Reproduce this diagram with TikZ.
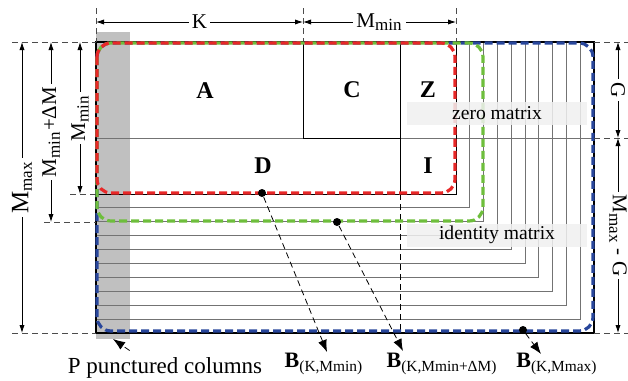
\documentclass[tikz,border=0pt]{standalone}
\usepackage{fontspec}
\setmainfont{Liberation Serif}
\usetikzlibrary{arrows.meta,calc}

\definecolor{bandred}{RGB}{232,40,40}
\definecolor{bandgreen}{RGB}{110,190,60}
\definecolor{bandblue}{RGB}{40,70,155}
\definecolor{colgray}{RGB}{192,192,192}

% large subscript for the dimension labels
\newcommand{\lowidx}[1]{\textsubscript{\fontsize{8.5}{9}\selectfont #1}}

\begin{document}
\begin{tikzpicture}[x=0.5pt,y=-0.5pt,
    dim/.style={thin,{Latex[length=4pt,width=2.6pt]}-{Latex[length=4pt,width=2.6pt]}},
    ext/.style={thin,densely dashed,black!70},
    dimlabel/.style={fill=white,inner sep=1.5pt,font=\fontsize{10.5}{12}\selectfont},
    blocklabel/.style={font=\fontsize{12}{14}\selectfont\bfseries},
    stair/.style={black!55,line width=0.5pt},
    band/.style={rounded corners=7pt,line width=1.6pt,dash pattern=on 4pt off 2pt},
    dot/.style={circle,fill=black,inner sep=0pt,minimum size=4pt},
    pointer/.style={densely dashed,thin,-{Latex[length=6pt,width=4.5pt]}},
    tag/.style={fill=black!6,fill opacity=0.85,text opacity=1,minimum width=90pt,
                minimum height=11.5pt,inner sep=0pt,font=\fontsize{9.8}{11}\selectfont},
    blabel/.style={font=\fontsize{11}{13}\selectfont}
]
\useasboundingbox (0,0) rectangle (628,381);

% punctured columns
\fill[colgray] (96,32) rectangle (130,339);

% staircase of the larger codes
\foreach \k in {1,...,9}
  \draw[stair] (96,{194+13.9*\k}) -| ({456+13.8*\k},42);

% blocks A, C, Z, D, I
\draw[black!55] (96,138) -- (594,138);
\draw (303,42) rectangle (400,138);
\draw (400,138) -- (400,194);
\draw[densely dashed] (400,194) -- (400,333);
\draw (96,194) -| (456,42);
\draw[line width=0.8pt] (96,42) rectangle (594,333);

% the three codes
\draw[band,bandblue]  (97,43) rectangle (593,331);
\draw[band,bandgreen] (97,43) rectangle (483,221);
\draw[band,bandred]   (97,43) rectangle (455,193);

\node[blocklabel] (A) at (205,91)  {A};
\node[blocklabel] (C) at (352,90)  {C};
\node[blocklabel] (Z) at (428,90)  {Z};
\node[blocklabel] (D) at (263,166) {D};
\node[blocklabel] (I) at (428,166) {I};
\node[tag] (zero)  at (497,113) {zero matrix};
\node[tag] (ident) at (497,235) {identity matrix};

% dimensions on top
\draw[ext] (96,8) -- (96,42);
\draw[ext] (303,8) -- (303,42);
\draw[ext] (456,8) -- (456,42);
\draw[dim] (96,22) -- (303,22) node[midway,dimlabel] (k) {K};
\draw[dim] (303,22) -- (456,22) node[midway,dimlabel] (mtop) {M\lowidx{min}};

% dimensions on the left
\draw[ext] (12,42) -- (96,42);
\draw[ext] (70,194) -- (96,194);
\draw[ext] (44,222) -- (96,222);
\draw[ext] (12,333) -- (96,333);
\draw[dim] (22,42) -- (22,333) node[midway,dimlabel,rotate=90,font=\fontsize{12.5}{14}\selectfont]
  (mmax) {M\lowidx{max}};
\draw[dim] (51,42) -- (51,222) node[midway,dimlabel,rotate=90] (mmid) {M\lowidx{min}+ΔM};
\draw[dim] (80,42) -- (80,194) node[midway,dimlabel,rotate=90] (mmin) {M\lowidx{min}};

% dimensions on the right
\draw[ext] (594,42) -- (628,42);
\draw[ext] (594,138) -- (628,138);
\draw[ext] (594,333) -- (628,333);
\draw[dim] (618,42) -- (618,138) node[midway,dimlabel,rotate=-90] (g) {G};
\draw[dim] (618,138) -- (618,333) node[midway,dimlabel,rotate=-90] (mg) {M\lowidx{max} - G};

% code labels
\node[dot] (pmin) at (262,193) {};
\node[dot] (pmid) at (337,222) {};
\node[dot] (pmax) at (523,330) {};
\node[blabel] (bmin) at (324,364) {\textbf{B}\textsubscript{(K,Mmin)}};
\node[blabel] (bmid) at (442,364) {\textbf{B}\textsubscript{(K,Mmin+ΔM)}};
\node[blabel] (bmax) at (557,364) {\textbf{B}\textsubscript{(K,Mmax)}};
\coordinate (tmin) at (327,352);
\coordinate (tmid) at (403,351);
\coordinate (tmax) at (541,354);
\draw[pointer] (pmin) -- (tmin);
\draw[pointer] (pmid) -- (tmid);
\draw[pointer] (pmax) -- (tmax);

\node[font=\fontsize{11.5}{13}\selectfont] (punct) at (165,368) {P punctured columns};
\coordinate (pcol) at (113,339);
\draw[pointer] ($(punct.north west)!0.33!(punct.north east)$) -- (pcol);
\end{tikzpicture}
\end{document}
